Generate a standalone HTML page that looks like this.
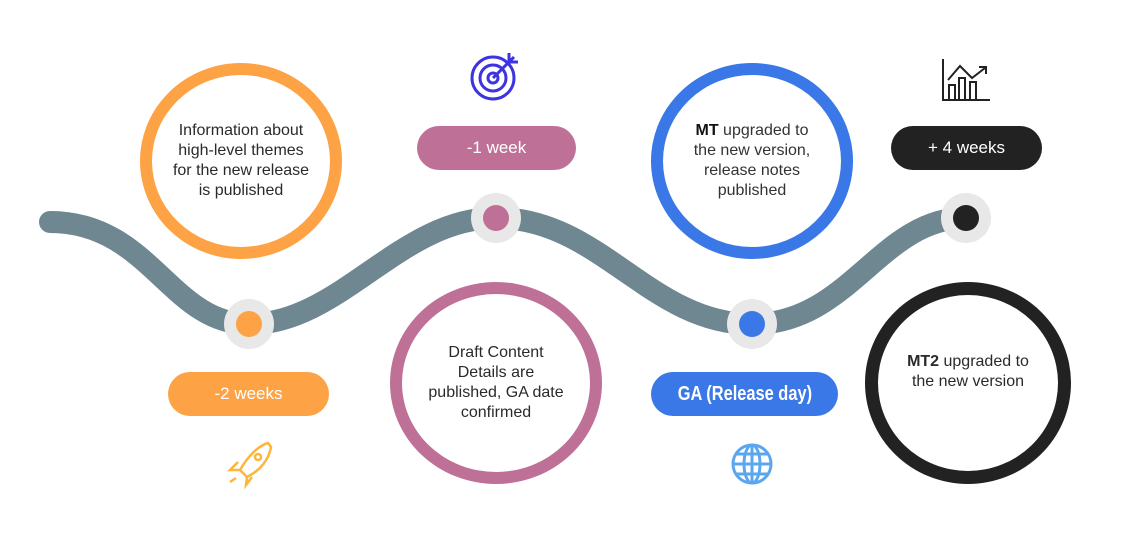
<!DOCTYPE html>
<html><head><meta charset="utf-8"><style>
body{margin:0;width:1134px;height:541px;background:#fff;position:relative;overflow:hidden;font-family:"Liberation Sans",sans-serif}
.c{position:absolute;border-radius:50%;box-sizing:border-box;display:flex;align-items:center;justify-content:center;text-align:center;font-size:16px;line-height:20px;color:#2a2a2a;background:#fff}
.p{position:absolute;border-radius:22px;color:#fff;display:flex;align-items:center;justify-content:center;font-size:17px;height:44px}
</style></head><body>
<svg width="1134" height="541" style="position:absolute;left:0;top:0">
<path d="M50,222 C150,222 170,324 249,324 C340,324 400,218 496,218 C600,218 650,324 752,324 C850,324 880,218 966,218" fill="none" stroke="#6e8790" stroke-width="22" stroke-linecap="round"/>
<circle cx="249" cy="324" r="25" fill="#e8e8e8"/><circle cx="249" cy="324" r="13" fill="#fda345"/>
<circle cx="496" cy="218" r="25" fill="#e8e8e8"/><circle cx="496" cy="218" r="13" fill="#bf7096"/>
<circle cx="752" cy="324" r="25" fill="#e8e8e8"/><circle cx="752" cy="324" r="13" fill="#3b78e7"/>
<circle cx="966" cy="218" r="25" fill="#e8e8e8"/><circle cx="966" cy="218" r="13" fill="#222"/>
<g fill="none" stroke="#3d33e0" stroke-width="3"><circle cx="493" cy="78" r="21"/><circle cx="493" cy="78" r="13"/><circle cx="493" cy="78" r="5"/><path d="M493,78 L514,57 M509,53 L509,62 L518,62"/></g>
<g fill="none" stroke="#222" stroke-width="2"><path d="M943,59 V100 H990"/><path d="M949,100 V85 H955 V100 M959,100 V78 H965 V100 M970,100 V82 H976 V100"/><path d="M948,80 L960,66 L972,78 L985,68 M979,67 H986 V74"/></g>
<g fill="none" stroke="#fdb53a" stroke-width="2.5"><path d="M268,443 C258,446 248,456 240,470 L247,477 C261,470 269,459 271,447 Z"/><circle cx="258" cy="457" r="3"/><path d="M240,470 L230,470 L238,462 M247,477 L246,485 L252,477 M236,478 L230,482"/></g>
<g fill="none" stroke="#5aa7f0" stroke-width="3"><circle cx="752" cy="464" r="19"/><ellipse cx="752" cy="464" rx="8" ry="19"/><path d="M733,464 H771 M736,454 H768 M736,474 H768 M752,445 V483"/></g>
</svg>
<div class="c" style="left:140px;top:63px;width:202px;height:196px;border:12px solid #fda345">Information about<br>high-level themes<br>for the new release<br>is published</div>
<div class="c" style="left:651px;top:63px;width:202px;height:196px;border:12px solid #3b78e7;color:#333"><div><b style="color:#111">MT</b> upgraded to<br>the new version,<br>release notes<br>published</div></div>
<div class="c" style="left:390px;top:282px;width:212px;height:202px;border:12px solid #bf7096">Draft Content<br>Details are<br>published, GA date<br>confirmed</div>
<div class="c" style="left:865px;top:282px;width:206px;height:202px;border:13px solid #222"><div style="margin-top:-22px"><b>MT2</b> upgraded to<br>the new version</div></div>
<div class="p" style="left:417px;top:126px;width:159px;background:#bf7096">-1 week</div>
<div class="p" style="left:891px;top:126px;width:151px;background:#222">+ 4 weeks</div>
<div class="p" style="left:168px;top:372px;width:161px;background:#fda345">-2 weeks</div>
<div class="p" style="left:651px;top:372px;width:187px;background:#3b78e7;font-weight:bold;font-size:20px"><span style="display:inline-block;transform:scaleX(0.82)">GA (Release day)</span></div>
</body></html>
